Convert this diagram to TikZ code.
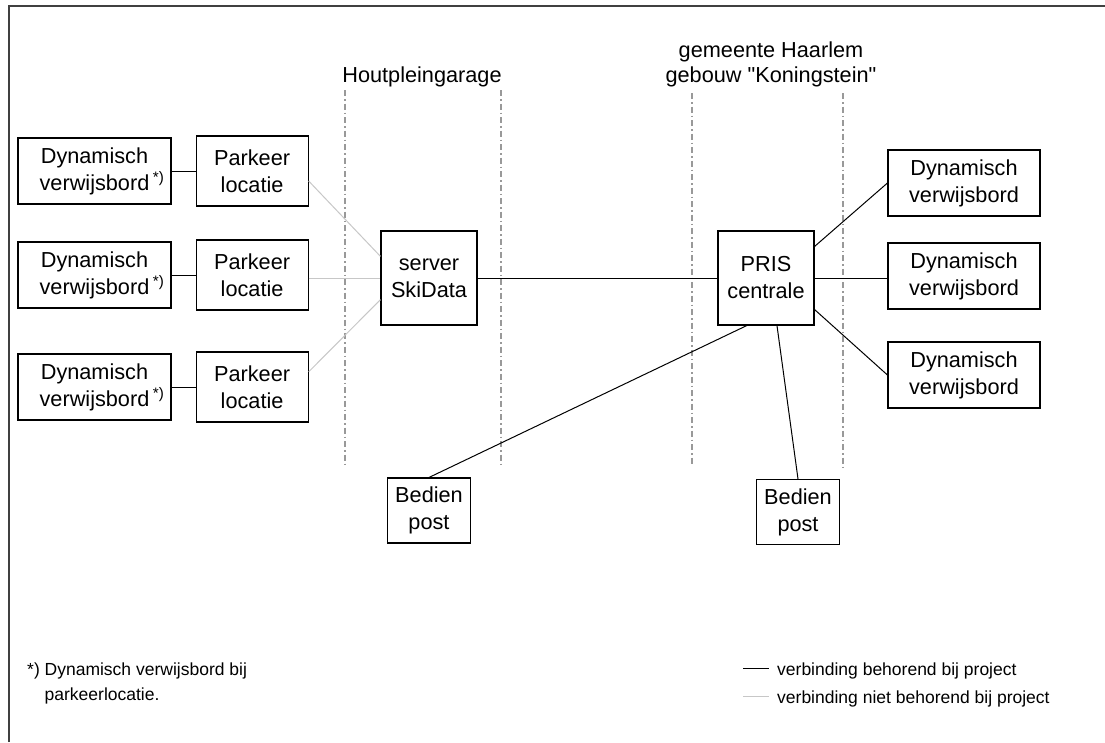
\documentclass[tikz,border=0pt]{standalone}
\usepackage{fontspec}
\setmainfont{Liberation Sans}
\newfontfamily\rechtfont{Liberation Sans}
\usetikzlibrary{positioning}

\begin{document}
\begin{tikzpicture}[x=1pt,y=-1pt,node distance=24pt]
  \tikzstyle{box}=[draw,line width=1.1pt,inner sep=0pt,align=center,font=\fontsize{21.7}{27}\selectfont]
  \tikzstyle{bord}=[box,minimum width=153pt,minimum height=66pt]
  \tikzstyle{park}=[box,minimum width=112pt,minimum height=70pt]
  \tikzstyle{centraal}=[box,minimum width=96pt,minimum height=94pt]
  \tikzstyle{post}=[box,minimum width=83pt,minimum height=65pt]
  \tikzstyle{grens}=[draw=black!40,line width=1.4pt,dash pattern=on 6pt off 3pt on 1.5pt off 3pt]
  \tikzstyle{eigen}=[line width=1pt]
  \tikzstyle{vreemd}=[line width=1pt,draw=black!22]
  \tikzstyle{kop}=[font=\fontsize{21.7}{25}\selectfont,inner sep=0pt,anchor=base]
  \tikzstyle{klein}=[font=\fontsize{17.5}{25}\selectfont,inner sep=0pt,anchor=base west]
  \useasboundingbox (0,0) rectangle (1105,742);
  \draw[line width=1.3pt,black!75] (9,742) -- (9,6) -- (1105,6);

  % gebouwgrenzen
  \foreach \x/\a/\b in {345/90/465,501/90/465,692/93/465,843/93/467}
    \draw[grens] (\x,\a) -- (\x,\b);
  \node[kop] (garage) at (422,82) {Houtpleingarage};
  \node[kop] (haarlem) at (771,57) {gemeente Haarlem};
  \node[kop] (gebouw) at (771,82) {\rechtfont gebouw "Koningstein"};

  % links: borden en parkeerlocaties
  \node[bord] (dv1) at (94.5,171) {Dynamisch\\verwijsbord\rlap{\,\textsuperscript{*)}}};
  \node[bord] (dv2) at (94.5,275) {Dynamisch\\verwijsbord\rlap{\,\textsuperscript{*)}}};
  \node[bord] (dv3) at (94.5,387) {Dynamisch\\verwijsbord\rlap{\,\textsuperscript{*)}}};
  \node[park,right=24pt of dv1] (pl1) {Parkeer\\locatie};
  \node[park,right=24pt of dv2] (pl2) {Parkeer\\locatie};
  \node[park,right=24pt of dv3] (pl3) {Parkeer\\locatie};

  \node[centraal] (server) at (429,278) {server\\SkiData};
  \node[centraal] (pris) at (766,278) {PRIS\\centrale};

  % rechts: borden
  \node[bord,minimum width=152pt] (dvr1) at (964,183) {Dynamisch\\verwijsbord};
  \node[bord,minimum width=152pt] (dvr2) at (964,276) {Dynamisch\\verwijsbord};
  \node[bord,minimum width=152pt] (dvr3) at (964,375) {Dynamisch\\verwijsbord};

  \node[post] (post1) at (429,510.5) {Bedien\\post};
  \node[post] (post2) at (798,512) {Bedien\\post};

  % verbindingen
  \draw[eigen] (dv1.east) -- (dv1.east -| pl1.west);
  \draw[eigen] (dv2.east) -- (dv2.east -| pl2.west);
  \draw[eigen] (dv3.east) -- (dv3.east -| pl3.west);
  \draw[vreemd] (pl1.-10) -- (server.156);
  \draw[vreemd] (server.west -| pl2.east) -- (server.west);
  \draw[vreemd] (pl3.15) -- (server.204);
  \draw[eigen] (server.east) -- (pris.west);
  \draw[eigen] (pris.33) -- (dvr1.west);
  \draw[eigen] (pris.east) -- (pris.east -| dvr2.west);
  \draw[eigen] (pris.-33) -- (dvr3.west);
  \draw[eigen] (pris.248) -- (post1.north);
  \draw[eigen] (pris.-77) -- (post2.north);

  % voetnoot en legenda
  \node[klein] (noot1) at (27,675) {*) Dynamisch verwijsbord bij};
  \node[klein] (noot2) at (44.5,700) {parkeerlocatie.};
  \coordinate (eigenA) at (743,668);
  \coordinate (eigenB) at (769,668);
  \coordinate (vreemdA) at (743,696);
  \coordinate (vreemdB) at (769,696);
  \draw[eigen] (eigenA) -- (eigenB);
  \draw[vreemd] (vreemdA) -- (vreemdB);
  \node[klein] (leg1) at (777,675) {verbinding behorend bij project};
  \node[klein] (leg2) at (777,703) {verbinding niet behorend bij project};
\end{tikzpicture}
\end{document}
